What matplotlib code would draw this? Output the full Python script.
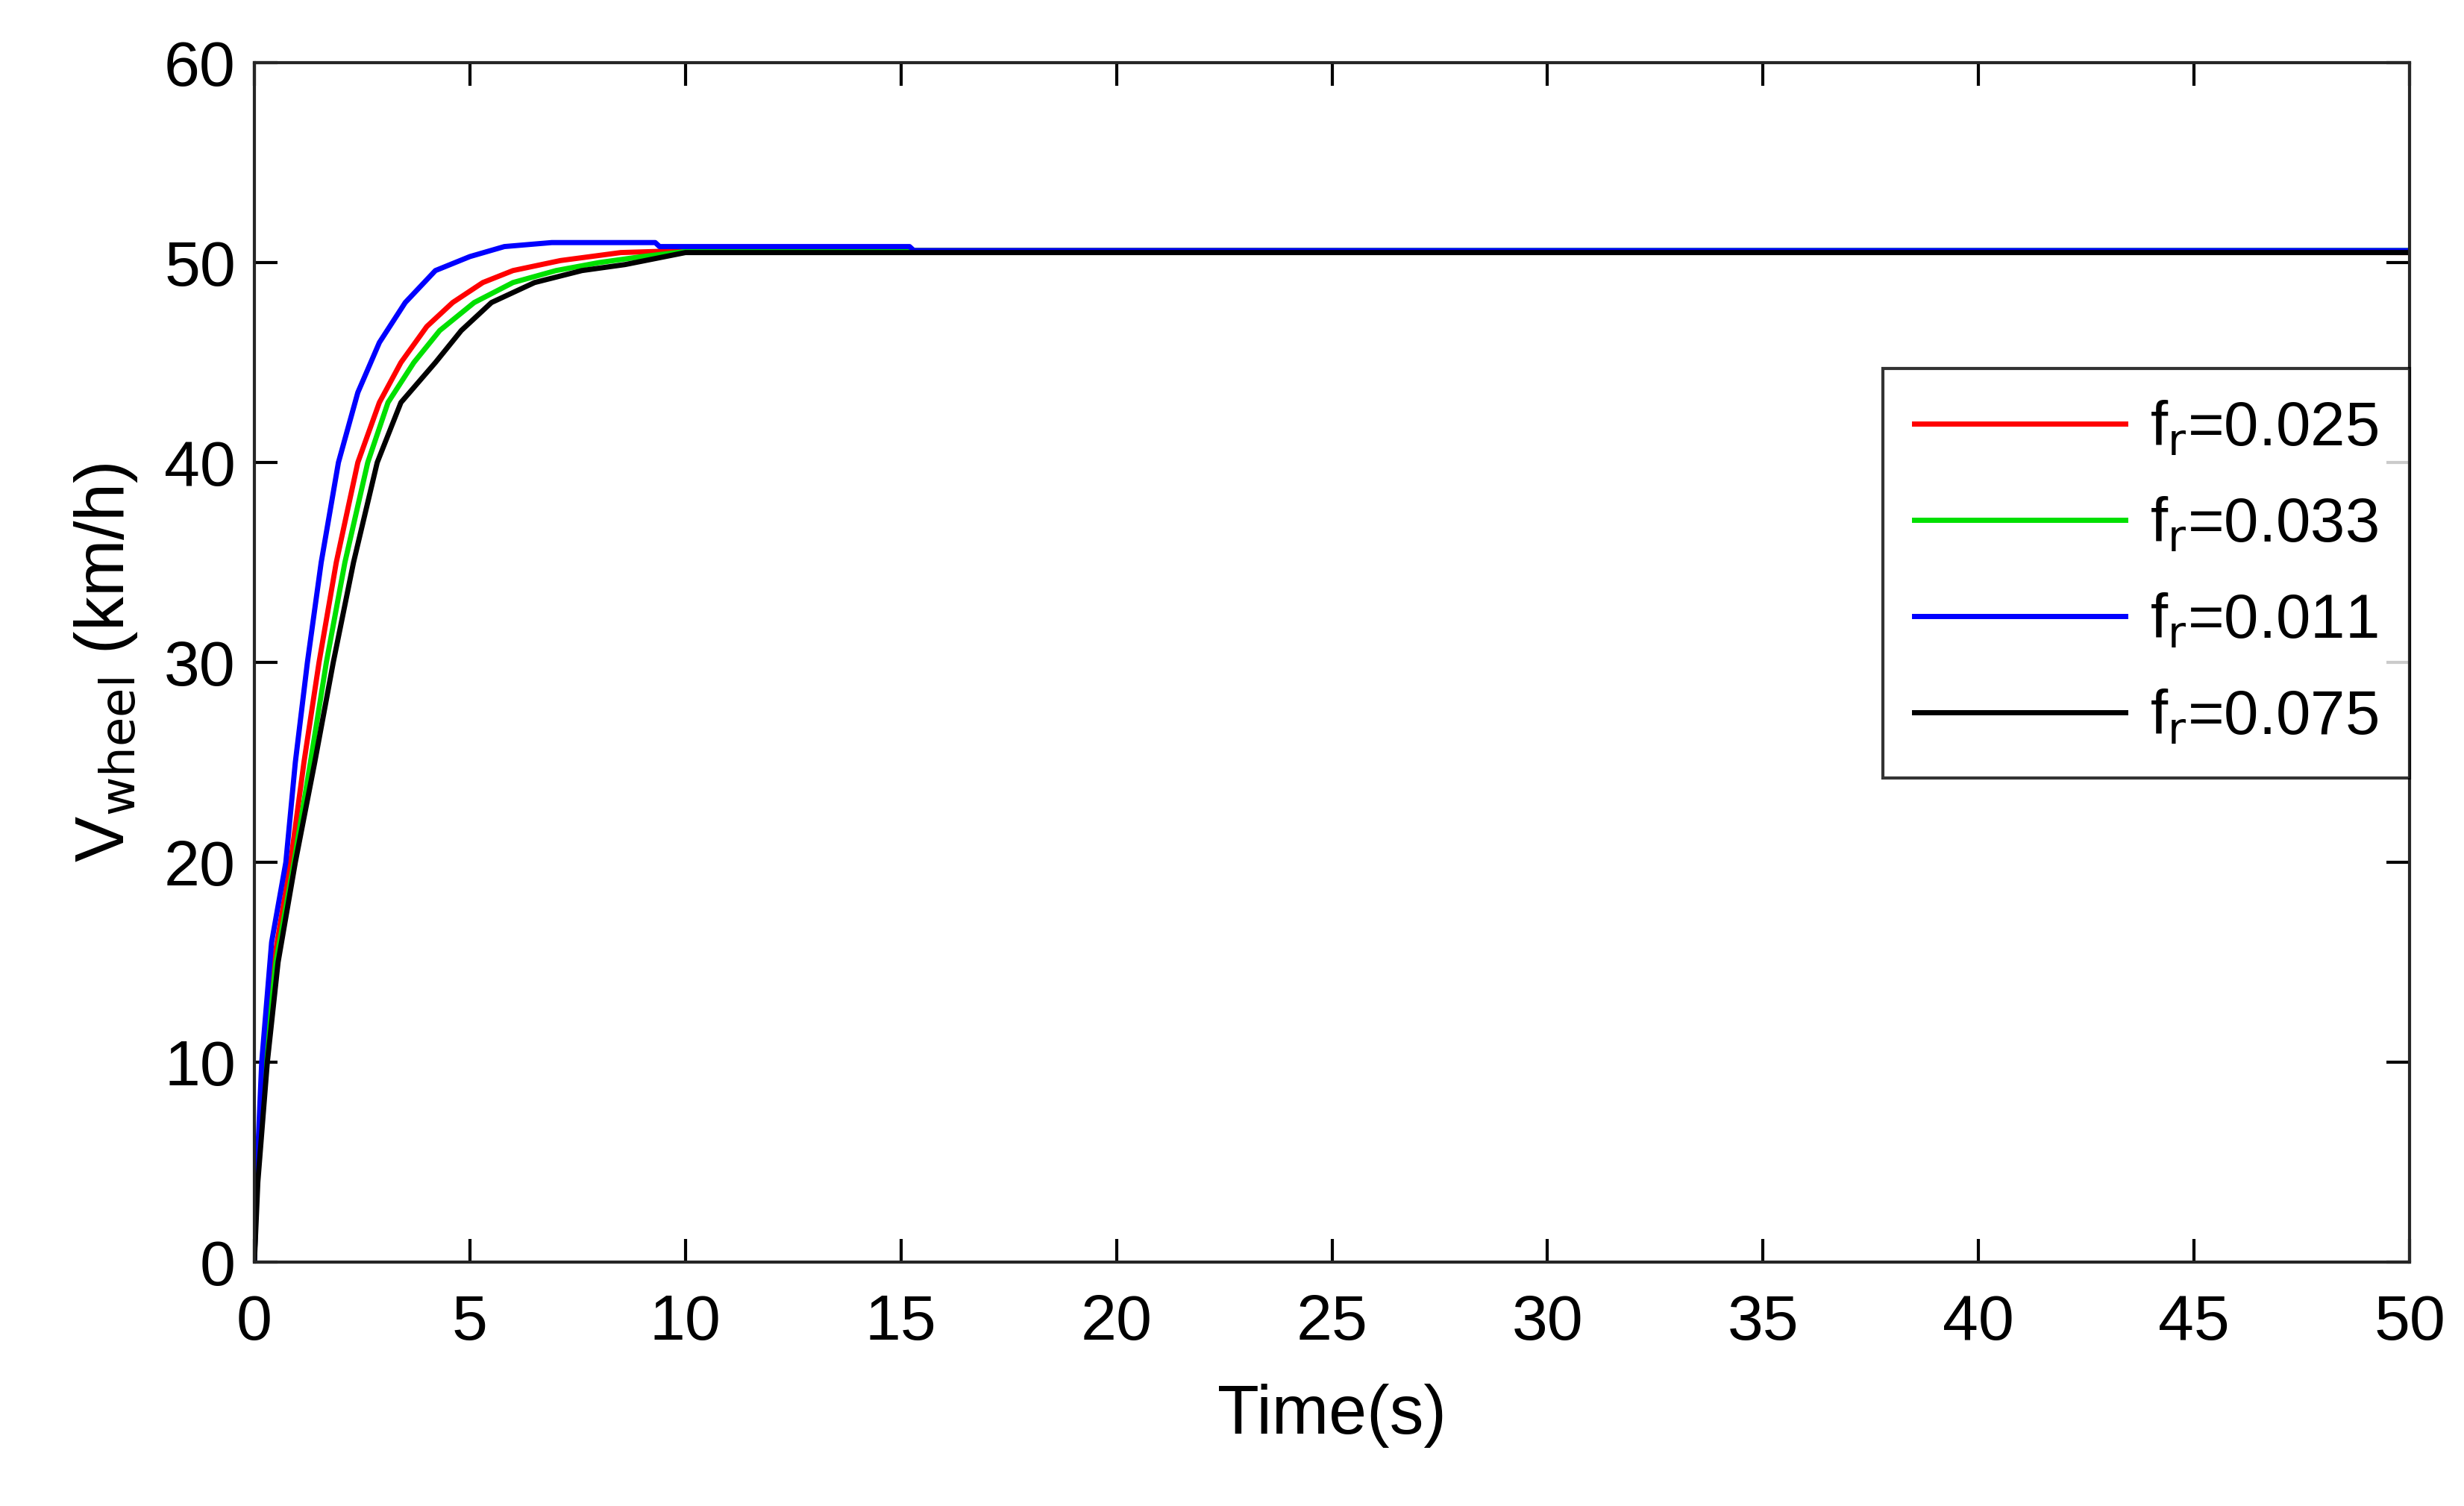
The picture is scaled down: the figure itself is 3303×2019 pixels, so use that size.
import numpy as np
import matplotlib
matplotlib.use("Agg")
import matplotlib.pyplot as plt

plt.rcParams['font.family'] = ['Liberation Sans', 'DejaVu Sans']

# (time s, speed km/h)
t_red   = [0, 0.05, 0.2, 0.45, 0.84, 1.15, 1.5, 1.9, 2.4, 2.9, 3.4, 4.0, 4.6, 5.3, 6.0, 7.1, 8.5, 10, 22.5, 50]
v_red   = [0, 4, 10, 15, 20, 25, 30, 35, 40, 43, 45, 46.8, 48, 49, 49.6, 50.1, 50.5, 50.6, 50.6, 50.5]
t_green = [0, 0.05, 0.25, 0.5, 0.92, 1.3, 1.67, 2.1, 2.63, 3.1, 3.7, 4.3, 5.1, 6.0, 7.0, 8.0, 9.0, 10.2, 22.5, 50]
v_green = [0, 4, 10, 15, 20, 25, 30, 35, 40, 43, 45, 46.6, 48, 49, 49.6, 50.0, 50.3, 50.6, 50.6, 50.6]
t_blue  = [0, 0.05, 0.17, 0.4, 0.73, 0.95, 1.23, 1.55, 1.95, 2.4, 2.9, 3.5, 4.2, 5.0, 5.8, 6.9, 9.3, 9.4, 15.2, 15.3, 50]
v_blue  = [0, 4, 10, 16, 20, 25, 30, 35, 40, 43.5, 46, 48, 49.6, 50.3, 50.8, 51.0, 51.0, 50.8, 50.8, 50.6, 50.6]
t_black = [0, 0.08, 0.3, 0.55, 0.95, 1.4, 1.83, 2.3, 2.85, 3.4, 4.2, 4.8, 5.5, 6.5, 7.6, 8.6, 10.0, 50]
v_black = [0, 4, 10, 15, 20, 25, 30, 35, 40, 43, 45, 46.6, 48, 49, 49.6, 49.9, 50.5, 50.5]

series = [("f$_\\mathrm{r}$=0.025", t_red, v_red, "#ff0000"),
          ("f$_\\mathrm{r}$=0.033", t_green, v_green, "#00e000"),
          ("f$_\\mathrm{r}$=0.011", t_blue, v_blue, "#0000ff"),
          ("f$_\\mathrm{r}$=0.075", t_black, v_black, "#000000")]

fig = plt.figure(figsize=(33.03, 20.19), dpi=100)
ax = fig.add_axes([341/3303, 1-1692/2019, (3230-341)/3303, (1692-84)/2019])
for name, t, v, c in series:
    ax.plot(t, v, color=c, lw=5, label=name)

ax.set_xlim(0, 50); ax.set_ylim(0, 60)
ax.set_xticks(np.arange(0, 51, 5)); ax.set_yticks(np.arange(0, 61, 10))
ax.tick_params(labelsize=62, direction="in", length=22, width=3, top=True, right=True,
               labeltop=False, labelright=False)
ax.tick_params(axis="x", pad=30)
ax.tick_params(axis="y", pad=18)
for sp in ax.spines.values():
    sp.set_linewidth(3); sp.set_color("#262626")
ax.set_xlabel("Time(s)", fontsize=66, labelpad=30)
ax.set_ylabel("V$_{\\mathrm{wheel}}$ (km/h)", fontsize=66, labelpad=24)
leg = ax.legend(loc="upper right", bbox_to_anchor=(1.0, 0.745), borderaxespad=0, fontsize=60, frameon=True,
                fancybox=False, edgecolor="#000000", handlelength=3.4, handletextpad=0.4,
                borderpad=0.5, labelspacing=0.6)
leg.get_frame().set_linewidth(3)
fig.savefig("out.png", dpi=100)
